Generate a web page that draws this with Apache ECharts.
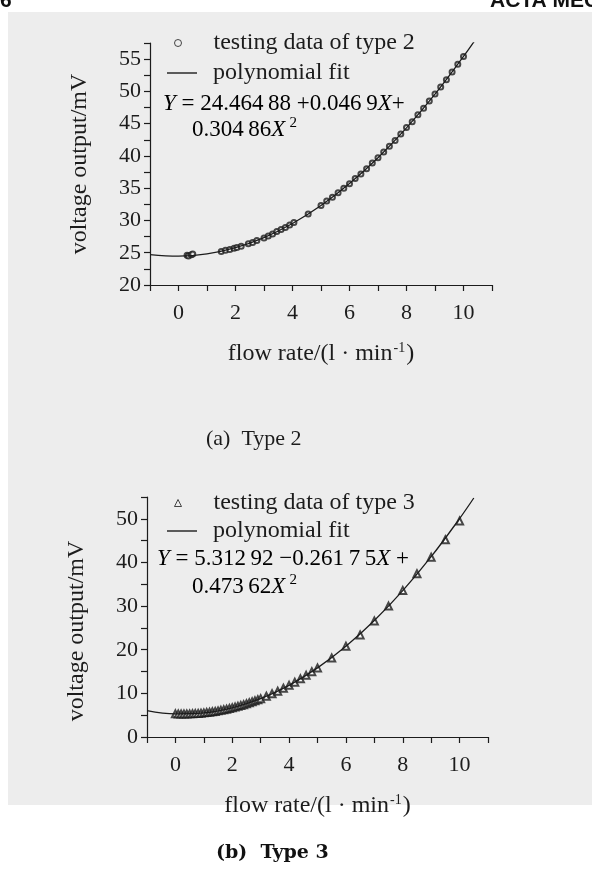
<!DOCTYPE html>
<html>
  <head>
    <meta charset="UTF-8">
    <title>flow sensor calibration</title>
    <script src="https://cdn.jsdelivr.net/npm/echarts@6/dist/echarts.min.js"></script>
    <style>
      html, body { margin: 0; padding: 0; background: #fff; }
      #chart { width: 592px; height: 881px; }
    </style>
  </head>
  <body>
    <div id="chart"></div>
    <script type="text/javascript">
     // testing data of type 2
     var type2X = [0.3, 0.35, 0.45, 0.5, 1.5, 1.65, 1.8, 1.95, 2.05, 2.2, 2.45, 2.6, 2.75, 3.0, 3.15, 3.3, 3.45, 3.6, 3.75, 3.9, 4.05, 4.55,
                   5.0, 5.2, 5.4, 5.6, 5.8, 6.0, 6.2, 6.4, 6.6, 6.8, 7.0, 7.2, 7.4, 7.6, 7.8, 8.0, 8.2, 8.4, 8.6, 8.8, 9.0, 9.2, 9.4, 9.6, 9.8, 10.0];
     var type2Y = [24.6, 24.5, 24.7, 24.8, 25.2, 25.4, 25.5, 25.7, 25.8, 26.0, 26.4, 26.6, 26.9, 27.3, 27.6, 27.9, 28.3, 28.6, 28.9, 29.3, 29.7, 31.0,
                   32.3, 33.0, 33.6, 34.3, 35.0, 35.7, 36.5, 37.2, 38.0, 38.9, 39.7, 40.6, 41.5, 42.4, 43.4, 44.4, 45.3, 46.4, 47.4, 48.5, 49.6, 50.7, 51.8, 53.0, 54.2, 55.4];
     // polynomial fit curve, type 2
     var fit2X = [-1, 0, 1, 2, 3, 4, 5, 6, 7, 8, 9, 10, 10.4];
     var fit2Y = [24.72, 24.47, 24.82, 25.78, 27.35, 29.53, 32.31, 35.72, 39.73, 44.35, 49.58, 55.42, 57.9];

     // testing data of type 3
     var type3X = [0, 0.1, 0.2, 0.3, 0.4, 0.5, 0.6, 0.7, 0.8, 0.9, 1.0, 1.1, 1.2, 1.3, 1.4, 1.5, 1.6, 1.7, 1.8, 1.9, 2.0,
                   2.1, 2.2, 2.3, 2.4, 2.5, 2.6, 2.7, 2.8, 2.9, 3.0, 3.2, 3.4, 3.6, 3.8, 4.0, 4.2, 4.4, 4.6, 4.8, 5.0,
                   5.5, 6.0, 6.5, 7.0, 7.5, 8.0, 8.5, 9.0, 9.5, 10.0];
     var type3Y = [5.31, 5.29, 5.28, 5.28, 5.28, 5.30, 5.33, 5.36, 5.41, 5.46, 5.53, 5.60, 5.68, 5.77, 5.87, 5.99, 6.11, 6.24, 6.38, 6.53, 6.68,
                   6.85, 7.03, 7.22, 7.41, 7.62, 7.83, 8.06, 8.29, 8.54, 8.79, 9.33, 9.90, 10.51, 11.16, 11.84, 12.57, 13.33, 14.13, 14.97, 15.84,
                   18.1, 20.8, 23.4, 26.6, 30.0, 33.6, 37.4, 41.2, 45.2, 49.5];
     // polynomial fit curve, type 3
     var fit3X = [-1, 0, 1, 2, 3, 4, 5, 6, 7, 8, 9, 10, 10.5];
     var fit3Y = [6.05, 5.31, 5.52, 6.68, 8.79, 11.84, 15.84, 20.79, 26.69, 33.53, 41.32, 50.06, 54.77];

     var xTickLabels = [0, 2, 4, 6, 8, 10];
     var yTickLabels2 = [20, 25, 30, 35, 40, 45, 50, 55];
     var yTickLabels3 = [0, 10, 20, 30, 40, 50];

     function zip(xs, ys) {
       return xs.map(function (x, i) { return [x, ys[i]]; });
     }

     var serif = '"Liberation Serif", "Times New Roman", serif';
     var ink = '#1c1c1c';

     function xAxisOf(idx) {
       return {
         gridIndex: idx, type: 'value', min: -1, max: 11, interval: 1,
         name: '{a|flow rate/(l · min}{s|-1}{a|)}',
         nameLocation: 'middle', nameGap: 56,
         nameTextStyle: {
           rich: {
             a: { fontFamily: serif, fontSize: 24, color: ink },
             s: { fontFamily: serif, fontSize: 14, color: ink, padding: [0, 1, 12, 1] }
           }
         },
         splitLine: { show: false },
         axisLine: { onZero: false, lineStyle: { color: ink, width: 1.2 } },
         axisTick: { inside: false, length: 6, lineStyle: { color: ink, width: 1.2 } },
         axisLabel: {
           margin: 17, fontFamily: serif, fontSize: 22, color: ink,
           showMinLabel: true, showMaxLabel: true,
           formatter: function (v) { return xTickLabels.indexOf(v) >= 0 ? String(v) : ''; }
         }
       };
     }

     function yAxisOf(idx, min, max, step, labels, namePad) {
       return {
         gridIndex: idx, type: 'value', min: min, max: max, interval: step,
         name: 'voltage output/mV', nameLocation: 'middle', nameGap: 58,
         nameTextStyle: { fontFamily: serif, fontSize: 24, color: ink, padding: namePad },
         splitLine: { show: false },
         axisLine: { onZero: false, lineStyle: { color: ink, width: 1.2 } },
         axisTick: { length: 6, lineStyle: { color: ink, width: 1.2 } },
         axisLabel: {
           margin: 9, fontFamily: serif, fontSize: 22, color: ink,
           formatter: function (v) { return labels.indexOf(v) >= 0 ? String(v) : ''; }
         }
       };
     }

     var eqRich = {
       n: { fontFamily: serif, fontSize: 23, color: ink },
       i: { fontFamily: serif, fontSize: 23, fontStyle: 'italic', color: ink },
       s: { fontFamily: serif, fontSize: 15, color: ink, padding: [0, 0, 12, 4] }
     };

     // marker legend (small symbol) and fit legend (thin line) kept apart so each icon gets its own size
     function markLegend(top, name, icon) {
       return {
         orient: 'vertical', left: 174, top: top, padding: 0,
         itemWidth: 7, itemHeight: 7, selectedMode: false,
         textStyle: { fontFamily: serif, fontSize: 24, color: ink, padding: [0, 0, 0, 27] },
         data: [{ name: name, icon: icon, itemStyle: { color: 'transparent', borderColor: ink, borderWidth: 1 } }]
       };
     }
     function fitLegend(top) {
       return {
         orient: 'vertical', left: 167, top: top, padding: 0,
         itemWidth: 30, itemHeight: 1.4, selectedMode: false,
         textStyle: { fontFamily: serif, fontSize: 24, color: ink, padding: [0, 0, 0, 11] },
         data: [{ name: 'polynomial fit', icon: 'rect', itemStyle: { color: ink } }]
       };
     }

     var chart = echarts.init(document.getElementById('chart'));
     chart.setOption({
       backgroundColor: '#ffffff',
       animation: false,
       grid: [
         { left: 150, top: 43, width: 342, height: 242 },
         { left: 147, top: 497, width: 341, height: 240 }
       ],
       xAxis: [xAxisOf(0), xAxisOf(1)],
       yAxis: [
         yAxisOf(0, 20, 57.5, 2.5, yTickLabels2, [0, 0, 0, 0]),
         yAxisOf(1, 0, 55, 5, yTickLabels3, [0, 28, 0, 0])
       ],
       legend: [
         markLegend(31, 'testing data of type 2', 'circle'),
         fitLegend(61),
         markLegend(491, 'testing data of type 3', 'triangle'),
         fitLegend(519)
       ],
       series: [
         {
           name: 'polynomial fit', type: 'line', xAxisIndex: 0, yAxisIndex: 0,
           data: zip(fit2X, fit2Y), smooth: 0.4, symbol: 'none', clip: true,
           lineStyle: { color: ink, width: 1.3 }, itemStyle: { color: ink }
         },
         {
           name: 'testing data of type 2', type: 'scatter', xAxisIndex: 0, yAxisIndex: 0,
           data: zip(type2X, type2Y), symbol: 'emptyCircle', symbolSize: 5,
           itemStyle: { color: ink, borderColor: ink, borderWidth: 1 }
         },
         {
           name: 'polynomial fit', type: 'line', xAxisIndex: 1, yAxisIndex: 1,
           data: zip(fit3X, fit3Y), smooth: 0.4, symbol: 'none', clip: true,
           lineStyle: { color: ink, width: 1.3 }, itemStyle: { color: ink }
         },
         {
           name: 'testing data of type 3', type: 'scatter', xAxisIndex: 1, yAxisIndex: 1,
           data: zip(type3X, type3Y), symbol: 'emptyTriangle', symbolSize: 7,
           itemStyle: { color: ink, borderColor: ink, borderWidth: 1 }
         }
       ],
       graphic: [
         // scanned page tone
         { type: 'rect', z: -100, shape: { x: 8, y: 12, width: 584, height: 793 }, style: { fill: '#ededed' } },
         { type: 'text', left: 0, top: -9, style: { text: '6', font: 'bold 21px "Liberation Sans"', fill: '#111' } },
         { type: 'text', left: 490, top: -9, style: { text: 'ACTA MECH', font: 'bold 21px "Liberation Sans"', fill: '#111' } },
         // fit equations
         { type: 'text', left: 163, top: 92, style: { text: '{i|Y}{n| = 24.464\u200988 +0.046\u20099}{i|X}{n|+}', rich: eqRich } },
         { type: 'text', left: 192, top: 116, style: { text: '{n|0.304\u200986}{i|X}{s|2}', rich: eqRich } },
         { type: 'text', left: 157, top: 547, style: { text: '{i|Y}{n| = 5.312\u200992 −0.261\u20097\u20095}{i|X}{n| +}', rich: eqRich } },
         { type: 'text', left: 192, top: 573, style: { text: '{n|0.473\u200962}{i|X}{s|2}', rich: eqRich } },
         // captions
         { type: 'text', left: 206, top: 428, style: { text: '(a)  Type 2', font: '22px "Liberation Serif"', fill: ink } },
         { type: 'text', left: 216, top: 844, style: { text: '(b)  Type 3', font: 'bold 19px "DejaVu Serif"', fill: '#111' } }
       ]
     });
    </script>
  </body>
</html>
